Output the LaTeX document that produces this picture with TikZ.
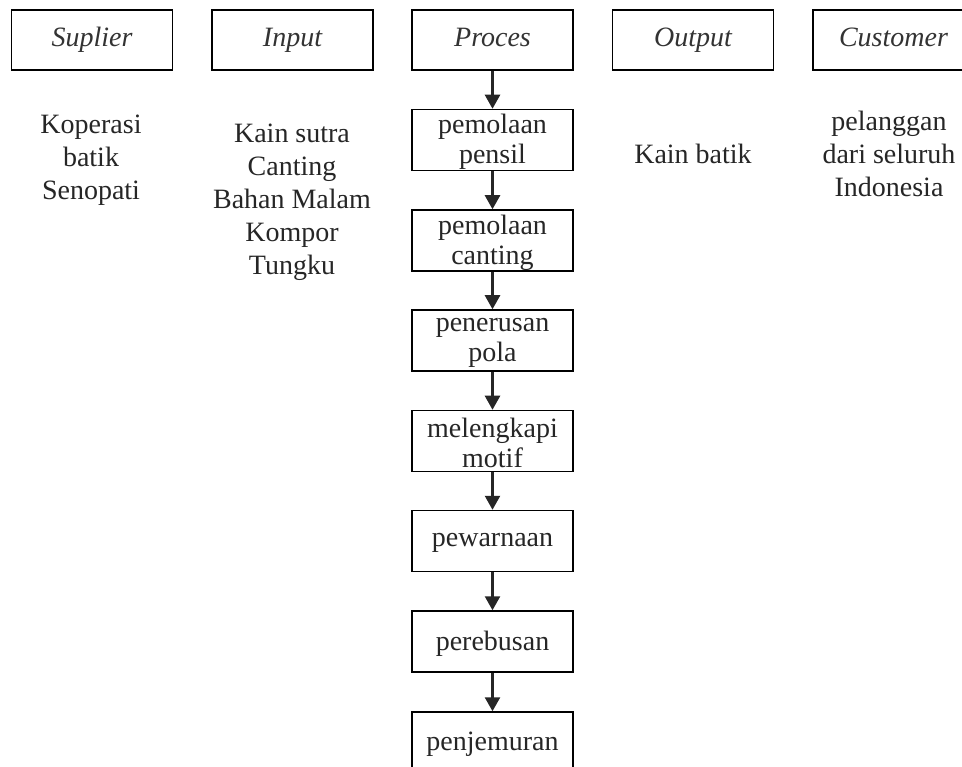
\documentclass[tikz,border=0pt]{standalone}
\usepackage{fontspec}
\setmainfont{Liberation Serif}
\usetikzlibrary{arrows.meta}
\tikzset{
  headbox/.style={draw=black, line width=1.5pt, minimum width=161pt, minimum height=60pt, inner sep=0pt,
    text height=19pt, text depth=6pt,
    font=\fontsize{28}{30}\selectfont\itshape, text=black!80},
  procbox/.style={draw=black, line width=1.5pt, minimum width=161pt, minimum height=61pt, inner sep=0pt},
  boxtext/.style={align=center, inner sep=0pt, font=\fontsize{28}{30}\selectfont, text=black!85},
  sidetext/.style={align=center, anchor=base, inner sep=0pt, font=\fontsize{28}{33}\selectfont, text=black!85},
  flow/.style={draw=black!85, line width=2.5pt, -{Triangle[width=15pt,length=14pt]}}
}
\begin{document}
\begin{tikzpicture}[x=1pt,y=-1pt]
\clip (0,0) rectangle (962,767);
\fill[white] (0,0) rectangle (962,767);
% headers
\node[headbox] (sup) at (92,40) {Suplier};
\node[headbox] (inp) at (292.5,40) {Input};
\node[headbox] (pro) at (492.5,40) {Proces};
\node[headbox] (out) at (693,40) {Output};
\node[headbox] (cus) at (893.5,40) {Customer};
% side texts (anchor base = baseline of last line)
\node[sidetext] (suptxt) at (91,200) {Koperasi\\batik\\Senopati};
\node[sidetext] (inptxt) at (292,275) {Kain sutra\\Canting\\Bahan Malam\\Kompor\\Tungku};
\node[sidetext] (outtxt) at (693,164) {Kain batik};
\node[sidetext] (custxt) at (889,197) {pelanggan\\dari seluruh\\Indonesia};
% process boxes
\node[procbox] (p1) at (492.5,140) {};
\node[procbox] (p2) at (492.5,240.5) {};
\node[procbox] (p3) at (492.5,340.5) {};
\node[procbox] (p4) at (492.5,441) {};
\node[procbox] (p5) at (492.5,541) {};
\node[procbox] (p6) at (492.5,641.5) {};
\node[procbox] (p7) at (492.5,742.5) {};
\node[boxtext, yshift=-2pt] (t1) at (p1) {pemolaan\\pensil};
\node[boxtext, yshift=-2pt] (t2) at (p2) {pemolaan\\canting};
\node[boxtext, yshift=-2pt] (t3) at (p3) {penerusan\\pola};
\node[boxtext, yshift=-2pt] (t4) at (p4) {melengkapi\\motif};
\node[boxtext, yshift=-2pt] (t5) at (p5) {pewarnaan};
\node[boxtext, yshift=-2pt] (t6) at (p6) {perebusan};
\node[boxtext, yshift=-2pt] (t7) at (p7) {penjemuran};
% arrows
\draw[flow] (pro.south) -- (p1.north);
\draw[flow] (p1.south) -- (p2.north);
\draw[flow] (p2.south) -- (p3.north);
\draw[flow] (p3.south) -- (p4.north);
\draw[flow] (p4.south) -- (p5.north);
\draw[flow] (p5.south) -- (p6.north);
\draw[flow] (p6.south) -- (p7.north);
\end{tikzpicture}
\end{document}
